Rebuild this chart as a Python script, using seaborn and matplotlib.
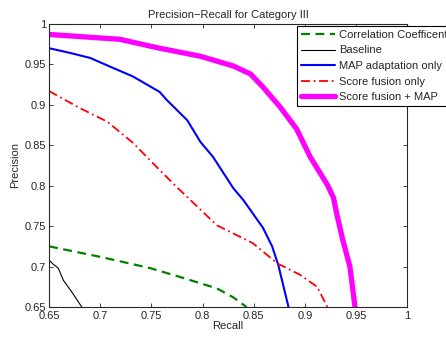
import matplotlib
matplotlib.use("Agg")
import pandas as pd
import seaborn as sns
from matplotlib import pyplot as plt

# curves (recall, precision)
corr_recall = [0.65, 0.70, 0.749, 0.781, 0.814, 0.83, 0.843]
corr_precision = [0.725, 0.712, 0.698, 0.686, 0.673, 0.662, 0.65]

base_recall = [0.65, 0.654, 0.659, 0.664, 0.672, 0.682]
base_precision = [0.708, 0.703, 0.698, 0.683, 0.669, 0.65]

map_recall = [0.65, 0.671, 0.69, 0.71, 0.732, 0.758, 0.765, 0.785, 0.798,
              0.810, 0.830, 0.840, 0.859, 0.868, 0.874, 0.879, 0.884]
map_precision = [0.970, 0.964, 0.958, 0.947, 0.935, 0.916, 0.906, 0.881, 0.854,
                 0.836, 0.797, 0.782, 0.748, 0.725, 0.702, 0.676, 0.65]

fusion_recall = [0.65, 0.680, 0.707, 0.732, 0.756, 0.775, 0.790, 0.814, 0.849,
                 0.873, 0.895, 0.912, 0.922]
fusion_precision = [0.917, 0.896, 0.879, 0.853, 0.822, 0.798, 0.780, 0.751, 0.729,
                    0.704, 0.690, 0.675, 0.65]

fmap_recall = [0.65, 0.719, 0.758, 0.798, 0.83, 0.847, 0.859, 0.876, 0.892,
               0.905, 0.922, 0.928, 0.931, 0.937, 0.944, 0.949]
fmap_precision = [0.987, 0.981, 0.970, 0.960, 0.948, 0.938, 0.922, 0.897, 0.870,
                  0.836, 0.801, 0.785, 0.766, 0.733, 0.70, 0.65]

sns.set_style("ticks")
plt.rcParams["font.family"] = ["Liberation Sans", "DejaVu Sans"]

fig = plt.figure(figsize=(4.46, 3.37), dpi=100)
ax = fig.add_axes([0.110, 0.089, 0.803, 0.840])

series = [
    ("Correlation Coefficent", corr_recall, corr_precision, "#008000", (0, (4, 2.5)), 1.6),
    ("Baseline", base_recall, base_precision, "black", "-", 0.8),
    ("MAP adaptation only", map_recall, map_precision, "blue", "-", 1.5),
    ("Score fusion only", fusion_recall, fusion_precision, "red", (0, (5, 2, 1, 2)), 1.3),
    ("Score fusion + MAP", fmap_recall, fmap_precision, "magenta", "-", 3.8),
]

for label, rec, prec, color, ls, lw in series:
    df = pd.DataFrame({"Recall": rec, "Precision": prec})
    sns.lineplot(data=df, x="Recall", y="Precision", sort=False, estimator=None,
                 color=color, linestyle=ls, linewidth=lw, label=label, ax=ax)

ax.set_xlim(0.65, 1.0)
ax.set_ylim(0.65, 1.0)
ticks = [0.65, 0.7, 0.75, 0.8, 0.85, 0.9, 0.95, 1.0]
tick_labels = ["0.65", "0.7", "0.75", "0.8", "0.85", "0.9", "0.95", "1"]
ax.set_xticks(ticks)
ax.set_xticklabels(tick_labels)
ax.set_yticks(ticks)
ax.set_yticklabels(tick_labels)
ax.tick_params(direction="in", top=True, right=True, labelsize=8, length=3,
               width=0.6)
ax.tick_params(axis="x", pad=3)
ax.tick_params(axis="y", pad=2)
for sp in ax.spines.values():
    sp.set_linewidth(0.8)
ax.set_xlabel("Recall", fontsize=8, labelpad=0)
ax.set_ylabel("Precision", fontsize=8, labelpad=3)
ax.set_title("Precision\u2212Recall for Category III", fontsize=8, pad=4)

leg = ax.legend(loc="upper right", bbox_to_anchor=(1.012, 0.923),
                bbox_transform=fig.transFigure, fontsize=8, frameon=True,
                fancybox=False, edgecolor="black", framealpha=1,
                handlelength=3.0, handletextpad=0.4, borderpad=0.35,
                labelspacing=0.5, borderaxespad=0)
leg.get_frame().set_linewidth(0.8)

fig.savefig("out.png", dpi=100)
